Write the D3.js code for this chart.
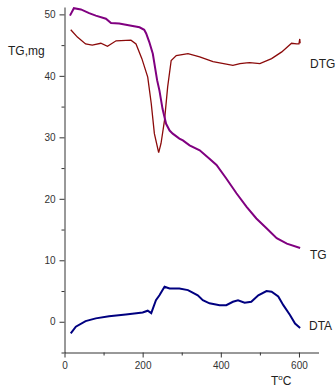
<!DOCTYPE html>
<html>
<head>
<meta charset="utf-8">
<script src="https://cdn.jsdelivr.net/npm/d3@7"></script>
<style>
  body { margin: 0; background: #fff; }
  svg { display: block; font-family: Arial, "Liberation Sans", sans-serif; }
  .axis path, .axis line { stroke: #333; }
  .axis text { fill: #333; font-size: 10px; }
  .lbl { fill: #222; font-size: 12px; }
</style>
</head>
<body>
<svg id="chart" width="336" height="387"></svg>
<script>
// TG curve (mass, mg)
var tgT = [14, 24, 42, 63, 80, 106, 119, 140, 157, 192, 204, 209, 217, 226, 237, 243, 251, 260, 269, 277, 294, 303, 320, 346, 371, 389, 414, 440, 466, 491, 517, 543, 569, 603];
var tgW = [49.8, 51.0, 50.8, 50.2, 49.8, 49.3, 48.6, 48.5, 48.3, 47.9, 47.5, 46.9, 45.5, 43.6, 39.3, 37.6, 34.6, 32.2, 31.1, 30.6, 29.8, 29.5, 28.7, 27.9, 26.5, 25.5, 23.3, 20.9, 18.7, 16.8, 15.2, 13.6, 12.7, 12.0];

// DTG curve
var dtgT = [16, 33, 54, 71, 93, 110, 132, 170, 183, 198, 213, 222, 230, 241, 247, 256, 264, 273, 286, 316, 346, 380, 431, 449, 466, 474, 500, 530, 556, 581, 594, 600, 602, 603];
var dtgV = [47.5, 46.3, 45.2, 45.0, 45.3, 44.8, 45.7, 45.8, 45.2, 42.8, 39.8, 35.5, 30.6, 27.5, 29.0, 32.8, 38.2, 42.5, 43.3, 43.6, 43.1, 42.3, 41.7, 42.0, 42.1, 42.15, 42.0, 42.8, 43.9, 45.3, 45.2, 45.2, 46.0, 45.3];

// DTA curve
var dtaT = [16, 29, 54, 80, 114, 157, 200, 213, 222, 234, 243, 256, 269, 294, 316, 341, 354, 371, 397, 414, 431, 444, 461, 478, 496, 517, 530, 547, 560, 577, 590, 603];
var dtaV = [-1.9, -0.8, 0.1, 0.55, 0.9, 1.2, 1.5, 1.8, 1.4, 3.5, 4.3, 5.7, 5.4, 5.4, 5.15, 4.3, 3.5, 3.0, 2.7, 2.7, 3.25, 3.5, 3.1, 3.25, 4.3, 5.0, 4.9, 4.1, 2.7, 1.1, -0.3, -1.0];

var xTicks = [0, 100, 200, 300, 400, 500, 600];
var yTicks = [-5, 0, 5, 10, 15, 20, 25, 30, 35, 40, 45, 50];

var svg = d3.select("#chart");

var x = d3.scaleLinear().domain([0, 650]).range([64.5, 318.5]);
var y = d3.scaleLinear().domain([-5, 51.2]).range([352.5, 7]);

// axes
var gx = svg.append("g")
    .attr("class", "axis")
    .attr("transform", "translate(0," + y(-5) + ")")
    .call(d3.axisBottom(x).tickValues(xTicks).tickSizeOuter(0).tickPadding(3)
      .tickFormat(function(d) { return d % 200 === 0 ? d : ""; }));
gx.selectAll(".tick line").attr("y2", function(d) { return d % 200 === 0 ? 5 : 3; });

var gy = svg.append("g")
    .attr("class", "axis")
    .attr("transform", "translate(" + x(0) + ",0)")
    .call(d3.axisLeft(y).tickValues(yTicks).tickSizeOuter(0).tickPadding(3)
      .tickFormat(function(d) { return d % 10 === 0 ? d : ""; }));
gy.selectAll(".tick line").attr("x2", function(d) { return d % 10 === 0 ? -5 : -3; });

function series(tt, vv) {
  return tt.map(function(t, i) { return [t, vv[i]]; });
}

var line = d3.line()
    .x(function(d) { return x(d[0]); })
    .y(function(d) { return y(d[1]); });

svg.append("path")
    .datum(series(dtgT, dtgV))
    .attr("fill", "none")
    .attr("stroke", "#8b0a0a")
    .attr("stroke-width", 1.3)
    .attr("d", line);

svg.append("path")
    .datum(series(tgT, tgW))
    .attr("fill", "none")
    .attr("stroke", "#800080")
    .attr("stroke-width", 2)
    .attr("d", line);

svg.append("path")
    .datum(series(dtaT, dtaV))
    .attr("fill", "none")
    .attr("stroke", "#000080")
    .attr("stroke-width", 2)
    .attr("d", line);

// labels
svg.append("text").attr("class", "lbl").attr("x", 8).attr("y", 55).text("TG,mg");
svg.append("text").attr("class", "lbl").attr("x", 310).attr("y", 68).text("DTG");
svg.append("text").attr("class", "lbl").attr("x", 310).attr("y", 259).text("TG");
svg.append("text").attr("class", "lbl").attr("x", 309).attr("y", 330).text("DTA");

var tc = svg.append("text").attr("class", "lbl").attr("x", 271).attr("y", 385);
tc.append("tspan").text("T");
tc.append("tspan").attr("dy", -5).style("font-size", "8px").text("o");
tc.append("tspan").attr("dy", 5).text("C");
</script>
</body>
</html>
